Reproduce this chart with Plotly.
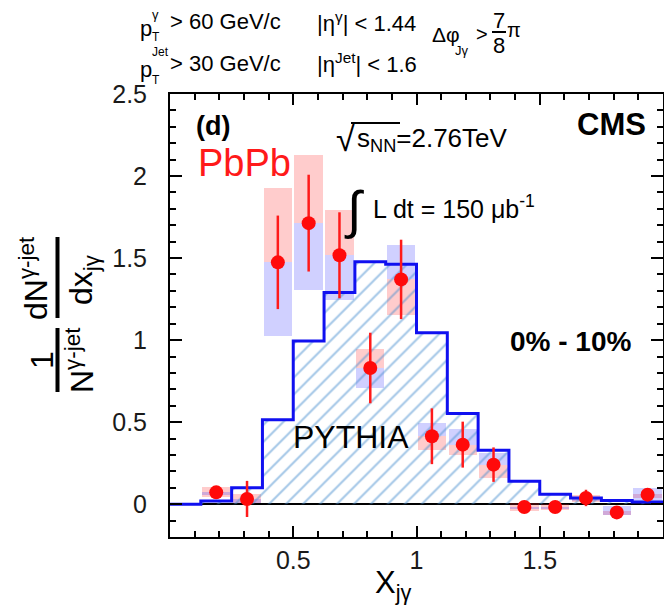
import numpy as np
import plotly.graph_objects as go

# ---------------- data ----------------
bin_width = 0.125
bin_edges = [0.0, 0.125, 0.25, 0.375, 0.5, 0.625, 0.75, 0.875, 1.0, 1.125,
             1.25, 1.375, 1.5, 1.625, 1.75, 1.875, 2.0]
pythia = [0.0, 0.02, 0.10, 0.515, 0.995, 1.29, 1.477, 1.463, 1.045, 0.553,
          0.328, 0.14, 0.06, 0.038, 0.022, 0.013]

xjg = [0.1875, 0.3125, 0.4375, 0.5625, 0.6875, 0.8125, 0.9375, 1.0625,
       1.1875, 1.3125, 1.4375, 1.5625, 1.6875, 1.8125, 1.9375]
pbpb = [0.072, 0.032, 1.474, 1.713, 1.517, 0.830, 1.370, 0.414, 0.363,
        0.241, -0.017, -0.017, 0.038, -0.050, 0.058]
stat_err = [0.03, 0.11, 0.285, 0.295, 0.262, 0.215, 0.242, 0.17, 0.14,
            0.105, 0.03, 0.025, 0.05, 0.025, 0.03]
sys_red_lo = [0.045, 0.005, 1.474, 1.713, 1.517, 0.830, 1.155, 0.332, 0.302,
              0.160, -0.040, -0.035, 0.015, -0.065, 0.040]
sys_red_hi = [0.105, 0.060, 1.928, 2.131, 1.790, 0.946, 1.370, 0.414, 0.363,
              0.241, 0.010, 0.000, 0.055, -0.040, 0.060]
sys_blue_lo = [0.055, 0.010, 1.023, 1.308, 1.247, 0.709, 1.370, 0.414, 0.363,
               0.241, -0.030, -0.030, 0.020, -0.065, 0.017]
sys_blue_hi = [0.072, 0.032, 1.474, 1.713, 1.517, 0.830, 1.582, 0.495, 0.459,
               0.312, -0.017, -0.017, 0.038, -0.010, 0.099]

x_ticks = [0, 0.5, 1, 1.5, 2]
x_ticktext = ["", "0.5", "1", "1.5", ""]

# ---------------- layout geometry ----------------
W, H = 664, 607
L, R, T, B = 170, 1, 94, 70
PW, PH = W - L - R, H - T - B
FONT = "Liberation Sans, Arial, Helvetica, sans-serif"


def px(x):
    return (x - L) / PW


def py(y):
    return 1 - (y - T) / PH


fig = go.Figure()

box_w = 0.115
red_lo = np.array(sys_red_lo)
red_hi = np.array(sys_red_hi)
blue_lo = np.array(sys_blue_lo)
blue_hi = np.array(sys_blue_hi)

fig.add_trace(go.Bar(x=xjg, y=red_hi - red_lo, base=red_lo, width=box_w,
                     marker=dict(color="rgba(255,40,40,0.24)", line=dict(width=0)),
                     hoverinfo="skip", showlegend=False))
fig.add_trace(go.Bar(x=xjg, y=blue_hi - blue_lo, base=blue_lo, width=box_w,
                     marker=dict(color="rgba(60,60,255,0.24)", line=dict(width=0)),
                     hoverinfo="skip", showlegend=False))

# PYTHIA histogram (step, hatched)
fig.add_trace(go.Scatter(
    x=bin_edges, y=pythia + [pythia[-1]], mode="lines",
    line=dict(shape="hv", color="#1010f0", width=3),
    fill="tozeroy", fillcolor="rgba(255,255,255,0)",
    fillpattern=dict(shape="/", fgcolor="#4a8fcf", bgcolor="rgba(255,255,255,0)",
                     size=12, solidity=0.17),
    hoverinfo="skip", showlegend=False))

# PbPb data
fig.add_trace(go.Scatter(
    x=xjg, y=pbpb, mode="markers",
    marker=dict(color="#ff0a0a", size=14, line=dict(width=0)),
    error_y=dict(type="data", array=stat_err, color="#ff1a1a",
                 thickness=2.5, width=0),
    showlegend=False))

ann = []


def add(text, x, y, size, color="black", xanchor="center", yanchor="middle",
        angle=0, family=FONT):
    ann.append(dict(text=text, x=px(x), y=py(y), xref="paper", yref="paper",
                    showarrow=False, xanchor=xanchor, yanchor=yanchor,
                    textangle=angle, font=dict(size=size, color=color,
                                               family=family)))


# top cuts text
add("p", 138, 28, 22, xanchor="left")
add("γ", 150, 14, 13, xanchor="left")
add("T", 150, 37, 12, xanchor="left")
add("> 60 GeV/c", 168, 22, 22, xanchor="left")
add("|η<sup>γ</sup>| < 1.44", 315, 22, 22, xanchor="left")
add("p", 138, 70, 22, xanchor="left")
add("Jet", 150, 52, 12, xanchor="left")
add("T", 150, 80, 12, xanchor="left")
add("> 30 GeV/c", 168, 64, 22, xanchor="left")
add("|η<sup>Jet</sup>| < 1.6", 315, 63, 22, xanchor="left")
add("Δφ", 430, 34, 21, xanchor="left")
add("Jγ", 453, 51, 13, xanchor="left")
add(">", 474, 34, 20, xanchor="left")
add("7", 499, 20, 22)
add("8", 499, 45, 22)
add("π", 505, 30, 20, xanchor="left")

# in-plot labels
add("<b>(d)</b>", 213, 126, 27)
add("<b>CMS</b>", 611, 125, 31)
add("PbPb", 244, 163, 38, color="#ff1a1a")
add("√", 345, 139, 34)
add("s<sub>NN</sub>=2.76TeV", 355, 139, 26, xanchor="left")
add("∫", 354, 210, 52)
add("L dt = 150 μb<sup>-1</sup>", 371, 207, 25, xanchor="left")
add("<b>0% - 10%</b>", 570, 341, 28)
add("PYTHIA", 351, 437, 32)

# x title
add("X<sub>jγ</sub>", 373, 585, 31, xanchor="left")

# y title (two stacked fractions, rotated)
add("dN<sup>γ-jet</sup>", 34, 278, 32, angle=-90)
add("dx<sub>jγ</sub>", 83, 280, 32, angle=-90)
add("1", 42, 360, 32, angle=-90)
add("N<sup>γ-jet</sup>", 80, 360, 32, angle=-90)

shapes = [
    dict(type="line", xref="paper", yref="paper", x0=px(57.5), x1=px(57.5),
         y0=py(237), y1=py(318), line=dict(color="black", width=4)),
    dict(type="line", xref="paper", yref="paper", x0=px(57.5), x1=px(57.5),
         y0=py(328), y1=py(392), line=dict(color="black", width=4)),
    dict(type="line", xref="paper", yref="paper", x0=px(351), x1=px(400),
         y0=py(123), y1=py(123), line=dict(color="black", width=2)),
    dict(type="line", xref="paper", yref="paper", x0=px(492), x1=px(506),
         y0=py(32), y1=py(32), line=dict(color="black", width=2)),
]

axis_common = dict(showline=True, linecolor="black", linewidth=2,
                   mirror="ticks", ticks="inside", tickcolor="black",
                   tickwidth=2, showgrid=False, automargin=False,
                   tickfont=dict(family=FONT, size=25, color="#1a1a1a"))

fig.update_layout(
    width=W, height=H, autosize=False,
    margin=dict(l=L, r=R, t=T, b=B, pad=0, autoexpand=False),
    paper_bgcolor="white", plot_bgcolor="white",
    barmode="overlay", bargap=0,
    annotations=ann, shapes=shapes,
    xaxis=dict(range=[0, 2], tickmode="array", tickvals=x_ticks,
               ticktext=x_ticktext, ticklen=11, zeroline=False,
               minor=dict(ticks="inside", ticklen=6, tickwidth=2,
                          tickcolor="black", tickmode="linear", tick0=0,
                          dtick=0.1),
               **axis_common),
    yaxis=dict(range=[-0.2, 2.5], tickmode="linear", tick0=0, dtick=0.5,
               ticklen=12, zeroline=True, zerolinecolor="black",
               zerolinewidth=2, ticklabelstandoff=16,
               minor=dict(ticks="inside", ticklen=6, tickwidth=2,
                          tickcolor="black", tickmode="linear", tick0=0,
                          dtick=0.1),
               **axis_common),
)

# remove the browser's default 8px body margin so the figure fills the window
fig.write_html("out.html",
               config={"displayModeBar": False},
               post_script="document.body.style.margin='0';"
                           "document.body.style.overflow='hidden';")
